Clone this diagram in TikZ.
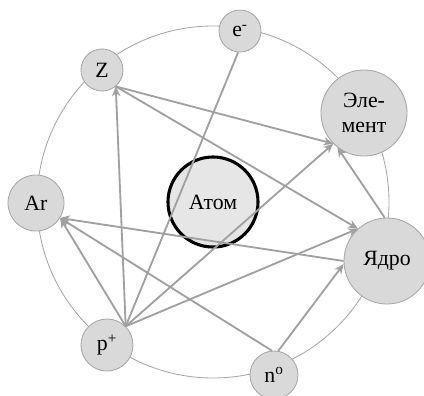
\documentclass[tikz,border=0pt]{standalone}
\usepackage{fontspec}
\setmainfont{Liberation Serif}
\usepackage{xcolor}
\usepackage{tikz}
\usetikzlibrary{arrows.meta}

\definecolor{rimgray}{HTML}{A6A6A6}
\definecolor{linkgray}{HTML}{A0A0A0}
\definecolor{ballfill}{HTML}{D9D9D9}
\definecolor{atomfill}{HTML}{E6E6E6}

\begin{document}
\begin{tikzpicture}[x=0.025cm, y=-0.025cm,
    particle/.style={circle, draw=rimgray, fill=ballfill, line width=0.6pt, inner sep=0pt,
        font=\fontsize{15.5}{18}\selectfont, align=center},
    link/.style={draw=linkgray, line width=1.3pt, -{Stealth[length=7pt, width=6pt]}},
    plainlink/.style={draw=linkgray, line width=1.3pt}]
    \useasboundingbox (0,0) rectangle (424,396);

    % Orbit
    \draw[rimgray, line width=0.6pt] (213,202) circle (176);

    % Centre
    \node[circle, draw=black, fill=atomfill, line width=2.2pt, minimum size=2.25cm, inner sep=0pt,
        font=\fontsize{15.5}{18}\selectfont] (atom) at (213,202) {Атом};

    % Particles and notions round the orbit
    \node[particle, minimum size=1.05cm] (el) at (240,31) {e\textsuperscript{-}};
    \node[particle, minimum size=1.05cm] (z) at (102,70) {Z};
    \node[particle, minimum size=2.15cm] (elem) at (364,113) {Эле-\\мент};
    \node[particle, minimum size=1.4cm] (ar) at (36,203) {Ar};
    \node[particle, minimum size=2.15cm] (nucl) at (387,261) {Ядро};
    \node[particle, minimum size=1.3cm] (pr) at (107,345) {p\textsuperscript{+}};
    \node[particle, minimum size=1.2cm] (ne) at (274,375) {n\textsuperscript{o}};

    % Links from the proton
    \draw[link] (pr.45) -- (z.-50);
    \draw[plainlink] (pr.45) -- (el.-95);
    \draw[link] (pr.45) -- (elem.-135);
    \draw[link] (pr.45) -- (nucl.132);
    \draw[link] (pr.45) -- (ar.-32);

    % Links from Z
    \draw[link] (z.-50) -- (elem.-135);
    \draw[link] (z.-50) -- (nucl.132);

    % Links from the nucleus and the neutron
    \draw[link] (nucl.180) -- (ar.-32);
    \draw[link] (nucl.93) -- (elem.-128);
    \draw[link] (ne.80) -- (nucl.184);
    \draw[link] (ne.95) -- (ar.-32);
\end{tikzpicture}
\end{document}
